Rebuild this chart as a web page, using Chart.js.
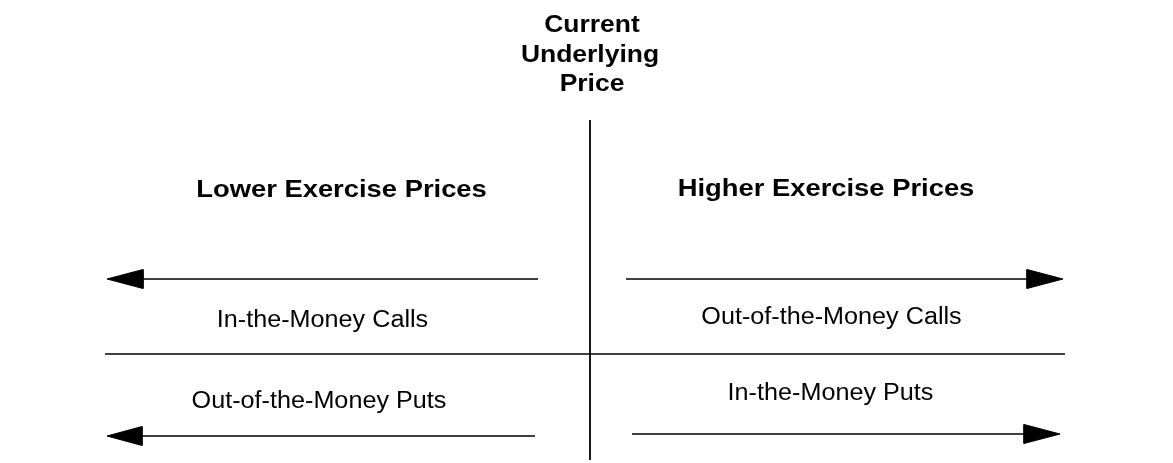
<!DOCTYPE html>
<html>
<head>
<meta charset="utf-8">
<script src="https://cdn.jsdelivr.net/npm/chart.js@4.4.1/dist/chart.umd.min.js"></script>
<style>
  html, body { margin: 0; padding: 0; background: #ffffff; }
  #wrap { width: 1173px; height: 463px; position: relative; }
</style>
</head>
<body>
<div id="wrap"><canvas id="c"></canvas></div>
<script>
// ---- Diagram data (diagram units, x to the right, y downward) ----
const currentPrice = 590;             // vertical divider: current underlying price
const dividerTop = 120;
const dividerBottom = 460;
const splitY = 354;                    // calls / puts separator
const splitLeft = 105;
const splitRight = 1065;

// arrows: [shaft start x, head base x, head tip x, y, head half-height]
const arrowCallsLower  = [538, 143, 107, 279, 9.5];
const arrowPutsLower   = [535, 142, 107, 436, 9.5];
const arrowCallsHigher = [626, 1027, 1063, 279, 9.5];
const arrowPutsHigher  = [632, 1024, 1060, 434, 9.5];

// text labels
const titleLines = ['Current', 'Underlying', 'Price'];
const titleX = [592, 590, 592];
const titleY = [31.5, 61.5, 90.5];

const headerTexts = ['Lower Exercise Prices', 'Higher Exercise Prices'];
const headerX = [341.5, 826];
const headerY = [196.5, 196];

const regionTexts = ['In-the-Money Calls', 'Out-of-the-Money Puts', 'Out-of-the-Money Calls', 'In-the-Money Puts'];
const regionX = [322.5, 319, 831.5, 830.5];
const regionY = [327, 407.5, 323.5, 399.5];

// ---- Build datasets ----
const INK = '#000000';
function lineDs(points, w) {
  return { data: points, showLine: true, pointRadius: 0, borderColor: INK, borderWidth: w, fill: false, tension: 0 };
}
const datasets = [];
datasets.push(lineDs([{x: currentPrice, y: dividerTop}, {x: currentPrice, y: dividerBottom}], 1.8));
datasets.push(lineDs([{x: splitLeft, y: splitY}, {x: splitRight, y: splitY}], 1.5));

[arrowCallsLower, arrowPutsLower, arrowCallsHigher, arrowPutsHigher].forEach(a => {
  const [s, b, t, y, h] = a;
  datasets.push(lineDs([{x: Math.min(s, b), y: y}, {x: Math.max(s, b), y: y}], 1.5));
  // head: upper edge filled to lower edge
  const upper = t < b ? [{x: t, y: y}, {x: b, y: y - h}] : [{x: b, y: y - h}, {x: t, y: y}];
  const lower = t < b ? [{x: t, y: y}, {x: b, y: y + h}] : [{x: b, y: y + h}, {x: t, y: y}];
  datasets.push({ data: upper, showLine: true, pointRadius: 0, borderColor: INK, borderWidth: 1,
                  backgroundColor: INK, fill: '+1', tension: 0 });
  datasets.push({ data: lower, showLine: true, pointRadius: 0, borderColor: INK, borderWidth: 1,
                  fill: false, tension: 0 });
  // base edge to close the head
  datasets.push(lineDs([{x: b, y: y - h}, {x: b, y: y + h}], 1));
});

// ---- Text plugin ----
const textPlugin = {
  id: 'diagramText',
  afterDatasetsDraw(chart) {
    const ctx = chart.ctx;
    const xs = chart.scales.x, ys = chart.scales.y;
    function draw(texts, X, Y, font, sx) {
      texts.forEach((t, i) => {
        ctx.save();
        ctx.translate(xs.getPixelForValue(X[i]), ys.getPixelForValue(Y[i]));
        ctx.scale(sx, 1);
        ctx.font = font;
        ctx.fillStyle = INK;
        ctx.textAlign = 'center';
        ctx.textBaseline = 'alphabetic';
        ctx.fillText(t, 0, 0);
        ctx.restore();
      });
    }
    draw(titleLines, titleX, titleY, 'bold 23px "Liberation Sans", Arial, sans-serif', 1.15);
    draw(headerTexts, headerX, headerY, 'bold 23px "Liberation Sans", Arial, sans-serif', 1.19);
    draw(regionTexts, regionX, regionY, '23px "Liberation Sans", Arial, sans-serif', 1.095);
  }
};

new Chart(document.getElementById('c'), {
  type: 'scatter',
  data: { datasets },
  options: {
    responsive: true,
    maintainAspectRatio: false,
    animation: false,
    layout: { padding: 0 },
    plugins: { legend: { display: false }, tooltip: { enabled: false }, title: { display: false } },
    events: [],
    scales: {
      x: { type: 'linear', min: 0, max: 1173, display: false },
      y: { type: 'linear', min: 0, max: 463, reverse: true, display: false }
    }
  },
  plugins: [textPlugin]
});
</script>
</body>
</html>
